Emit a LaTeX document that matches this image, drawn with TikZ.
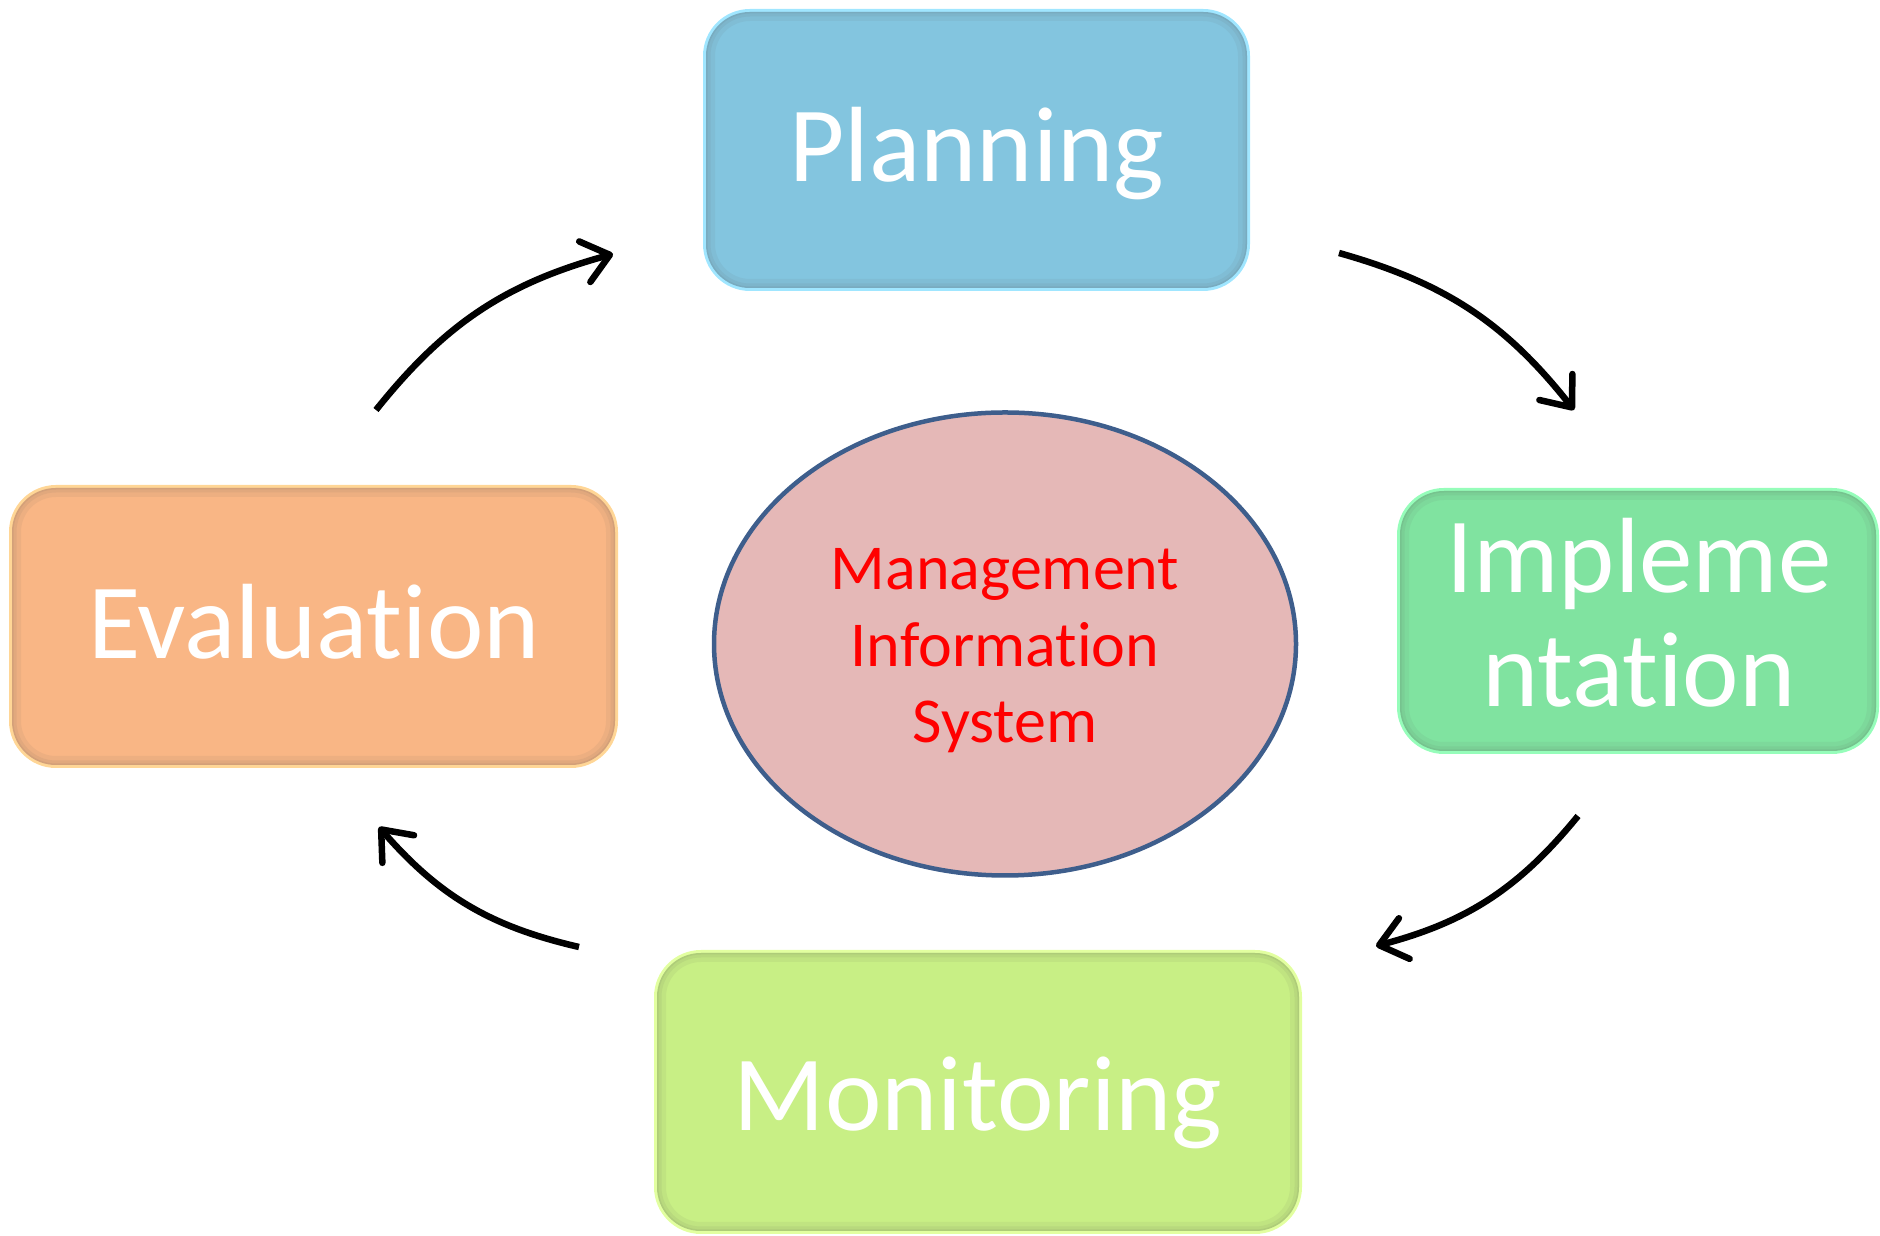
\documentclass[tikz,border=0pt]{standalone}
\usepackage{fontspec}
\setmainfont{Carlito}[Ligatures=NoCommon]
\usetikzlibrary{arrows.meta,shapes.geometric}

% stage colours
\definecolor{planfill}{RGB}{131,197,223}
\definecolor{planglow}{RGB}{160,230,255}
\definecolor{impfill}{RGB}{128,227,160}
\definecolor{impglow}{RGB}{150,253,186}
\definecolor{evalfill}{RGB}{249,182,133}
\definecolor{evalglow}{RGB}{255,214,150}
\definecolor{monfill}{RGB}{200,239,133}
\definecolor{monglow}{RGB}{226,255,160}
\definecolor{rimshade}{RGB}{90,90,90}
\definecolor{misfill}{RGB}{229,184,183}
\definecolor{misedge}{RGB}{62,94,140}
\definecolor{mistext}{RGB}{255,0,0}

\begin{document}
\begin{tikzpicture}[x=1pt,y=1pt,
  stage/.style 2 args={rounded corners=44pt, inner sep=0pt, fill=#1,
    preaction={draw=#2, line width=6pt},
    path picture={
      \draw[rimshade, line width=18pt, opacity=0.07, rounded corners=44pt]
        (path picture bounding box.south west) rectangle (path picture bounding box.north east);
      \draw[rimshade, line width=9pt, opacity=0.08, rounded corners=44pt]
        (path picture bounding box.south west) rectangle (path picture bounding box.north east);
      \draw[rimshade, line width=3pt, opacity=0.10, rounded corners=44pt]
        (path picture bounding box.south west) rectangle (path picture bounding box.north east);
    }},
  stagetext/.style={text=white, inner sep=0pt, anchor=base,
    font=\fontsize{107}{128}\selectfont},
  mislabel/.style={text=mistext, inner sep=0pt, anchor=base,
    font=\fontsize{64}{76}\selectfont},
  cyc/.style={line width=6.5pt, black,
    -{Straight Barb[length=26pt, width=42pt, round]}}]

\useasboundingbox (0,0) rectangle (1880,1236);

% the four stages of the cycle
\node[stage={planfill}{planglow}, minimum width=541pt, minimum height=276pt] (plan) at (976.5,1086) {};
\node[stage={impfill}{impglow}, minimum width=476pt, minimum height=260pt] (impl) at (1638,615) {};
\node[stage={evalfill}{evalglow}, minimum width=603pt, minimum height=277pt] (eval) at (313.5,609.5) {};
\node[stage={monfill}{monglow}, minimum width=642pt, minimum height=278pt] (moni) at (978,144) {};

\node[stagetext] (planT) at (977,1054) {Planning};
\node[stagetext] (implT1) at (1639,643) {Impleme};
\node[stagetext] (implT2) at (1639,529) {ntation};
\node[stagetext] (evalT) at (314,577) {Evaluation};
\node[stagetext] (moniT) at (978,105) {Monitoring};

% central system
\node[ellipse, draw=misedge, fill=misfill, line width=4.5pt, inner sep=0pt,
  minimum width=582pt, minimum height=463pt] (mis) at (1005,592) {};
\node[mislabel] (misT1) at (1005,646) {Management};
\node[mislabel] (misT2) at (1005,569) {Information};
\node[mislabel] (misT3) at (1005,493) {System};

% connector ends
\coordinate (a1s) at (1339,983);
\coordinate (a1e) at (1574,826);
\coordinate (a2s) at (1578,420);
\coordinate (a2e) at (1376,290);
\coordinate (a3s) at (579,289);
\coordinate (a3e) at (379,409);
\coordinate (a4s) at (376,826);
\coordinate (a4e) at (613,982);

\draw[cyc] (a1s) to[bend left=18] (a1e);
\draw[cyc] (a2s) to[bend left=18] (a2e);
\draw[cyc] (a3s) to[bend left=18] (a3e);
\draw[cyc] (a4s) to[bend left=18] (a4e);
\end{tikzpicture}
\end{document}
